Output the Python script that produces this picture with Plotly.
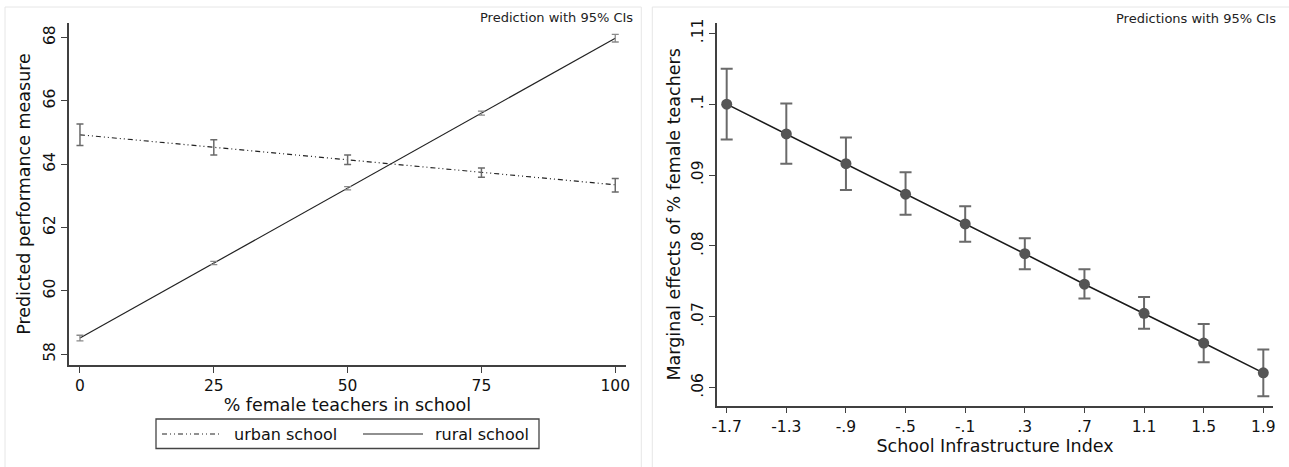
import plotly.graph_objects as go

# ---------------- data ----------------
pct_female = [0, 25, 50, 75, 100]
urban_pred = [64.93, 64.54, 64.14, 63.74, 63.35]
urban_lo = [64.59, 64.29, 63.99, 63.59, 63.12]
urban_hi = [65.27, 64.77, 64.29, 63.88, 63.55]
rural_pred = [58.51, 60.88, 63.24, 65.61, 67.98]
rural_lo = [58.42, 60.83, 63.19, 65.55, 67.86]
rural_hi = [58.60, 60.93, 63.29, 65.68, 68.10]

infra_index = [-1.7, -1.3, -0.9, -0.5, -0.1, 0.3, 0.7, 1.1, 1.5, 1.9]
infra_labels = ["-1.7", "-1.3", "-.9", "-.5", "-.1", ".3", ".7", "1.1", "1.5", "1.9"]
me_pred = [0.1000, 0.0958, 0.0916, 0.0873, 0.0831, 0.0789, 0.0746, 0.0705, 0.0663, 0.0621]
me_lo = [0.0950, 0.0916, 0.0879, 0.0844, 0.0806, 0.0767, 0.0726, 0.0683, 0.0636, 0.0588]
me_hi = [0.1050, 0.1001, 0.0953, 0.0904, 0.0856, 0.0811, 0.0767, 0.0728, 0.0690, 0.0654]

left_yticks = [58, 60, 62, 64, 66, 68]
right_yticks = [0.06, 0.07, 0.08, 0.09, 0.10, 0.11]
right_ylabels = [".06", ".07", ".08", ".09", ".1", ".11"]

series_names = ["urban school", "rural school"]

W, H = 1289, 467
FONT = "DejaVu Sans"
AX = "#404040"
ERR = "#6a6a6a"
URBAN_DASH = "5px,3px,1px,3px,1px,3px"


def px(x):
    return x / W


def py(y):
    return 1 - y / H


fig = go.Figure()

# ---- left panel ----
fig.add_trace(go.Scatter(
    x=pct_female, y=urban_pred, mode="lines", name=series_names[0],
    line=dict(color="#222222", width=1.2, dash=URBAN_DASH),
    xaxis="x", yaxis="y"))
fig.add_trace(go.Scatter(
    x=pct_female, y=rural_pred, mode="lines", name=series_names[1],
    line=dict(color="#222222", width=1.2),
    xaxis="x", yaxis="y"))
fig.add_trace(go.Scatter(
    x=pct_female, y=urban_pred, mode="markers", showlegend=False,
    marker=dict(size=1, color="rgba(0,0,0,0)"),
    error_y=dict(type="data", symmetric=False,
                 array=[h - p for h, p in zip(urban_hi, urban_pred)],
                 arrayminus=[p - l for l, p in zip(urban_lo, urban_pred)],
                 color=ERR, thickness=1.5, width=3.5),
    xaxis="x", yaxis="y"))
fig.add_trace(go.Scatter(
    x=pct_female, y=rural_pred, mode="markers", showlegend=False,
    marker=dict(size=1, color="rgba(0,0,0,0)"),
    error_y=dict(type="data", symmetric=False,
                 array=[h - p for h, p in zip(rural_hi, rural_pred)],
                 arrayminus=[p - l for l, p in zip(rural_lo, rural_pred)],
                 color="#8a8a8a", thickness=1.3, width=3.5),
    xaxis="x", yaxis="y"))

# ---- right panel ----
fig.add_trace(go.Scatter(
    x=infra_index, y=me_pred, mode="markers", showlegend=False,
    marker=dict(size=1, color="rgba(0,0,0,0)"),
    error_y=dict(type="data", symmetric=False,
                 array=[h - p for h, p in zip(me_hi, me_pred)],
                 arrayminus=[p - l for l, p in zip(me_lo, me_pred)],
                 color=ERR, thickness=2, width=6),
    xaxis="x2", yaxis="y2"))
fig.add_trace(go.Scatter(
    x=infra_index, y=me_pred, mode="lines+markers", showlegend=False,
    line=dict(color="#1a1a1a", width=1.5),
    marker=dict(size=11, color="#555555"),
    xaxis="x2", yaxis="y2"))

axis_common = dict(
    showline=True, linecolor=AX, linewidth=1.5, ticks="outside", ticklen=6,
    tickcolor=AX, tickwidth=1.3, showgrid=False, zeroline=False,
    tickfont=dict(family=FONT, size=15.5, color="#111111"),
    mirror=False, automargin=False,
)
TITLE_FONT = dict(family=FONT, size=17.5, color="#111111")

# manual legend (box, samples, labels)
legend_shapes = [
    dict(type="rect", xref="paper", yref="paper", x0=px(156), x1=px(539), y0=py(448.5), y1=py(419),
         line=dict(color="#444444", width=1.3), fillcolor="white"),
    dict(type="line", xref="paper", yref="paper", x0=px(162), x1=px(222), y0=py(434), y1=py(434),
         line=dict(color="#222222", width=1.2, dash=URBAN_DASH)),
    dict(type="line", xref="paper", yref="paper", x0=px(363), x1=px(423), y0=py(434), y1=py(434),
         line=dict(color="#222222", width=1.2)),
]
legend_labels = [
    dict(text=series_names[0], x=px(232), y=py(434), xref="paper", yref="paper",
         xanchor="left", yanchor="middle", showarrow=False,
         font=dict(family=FONT, size=16, color="#111111")),
    dict(text=series_names[1], x=px(433), y=py(434), xref="paper", yref="paper",
         xanchor="left", yanchor="middle", showarrow=False,
         font=dict(family=FONT, size=16, color="#111111")),
]

fig.update_layout(
    width=W, height=H,
    margin=dict(l=0, r=0, t=0, b=0),
    paper_bgcolor="white", plot_bgcolor="white",
    font=dict(family=FONT, color="#111111"),
    showlegend=False,
    xaxis=dict(**axis_common, domain=[px(69), px(625.7)], range=[-2.05, 101.95],
               tickvals=pct_female, ticktext=[str(v) for v in pct_female],
               anchor="y",
               title=dict(text="% female teachers in school", font=TITLE_FONT, standoff=3)),
    yaxis=dict(**axis_common, domain=[py(365), py(23)], range=[57.66, 68.46],
               tickvals=left_yticks, ticktext=[str(v) for v in left_yticks],
               tickangle=-90, anchor="x",
               title=dict(text="Predicted performance measure", font=TITLE_FONT, standoff=6)),
    xaxis2=dict(**axis_common, domain=[px(716.7), px(1273.3)], range=[-1.767, 1.967],
                tickvals=infra_index, ticktext=infra_labels, anchor="y2",
                title=dict(text="School Infrastructure Index", font=TITLE_FONT, standoff=3)),
    yaxis2=dict(**axis_common, domain=[py(405.7), py(23)], range=[0.05746, 0.11145],
                tickvals=right_yticks, ticktext=right_ylabels,
                tickangle=-90, anchor="x2",
                title=dict(text="Marginal effects of % female teachers", font=TITLE_FONT, standoff=4)),
    annotations=[
        dict(text="Prediction with 95% CIs", x=px(635), y=py(18), xref="paper", yref="paper",
             xanchor="right", yanchor="middle", showarrow=False,
             font=dict(family=FONT, size=13, color="#222222")),
        dict(text="Predictions with 95% CIs", x=px(1277.7), y=py(19), xref="paper", yref="paper",
             xanchor="right", yanchor="middle", showarrow=False,
             font=dict(family=FONT, size=13, color="#222222")),
    ] + legend_labels,
    shapes=[
        dict(type="rect", xref="paper", yref="paper", x0=px(5), x1=px(641.3), y0=-0.05, y1=py(7),
             line=dict(color="#e6e6e6", width=1), layer="below"),
        dict(type="rect", xref="paper", yref="paper", x0=px(652.3), x1=1.05, y0=-0.05, y1=py(7),
             line=dict(color="#e6e6e6", width=1), layer="below"),
    ] + legend_shapes,
)

fig.write_html("out.html",
               config={"displayModeBar": False},
               post_script="document.body.style.margin='0';document.body.style.overflow='hidden';")
